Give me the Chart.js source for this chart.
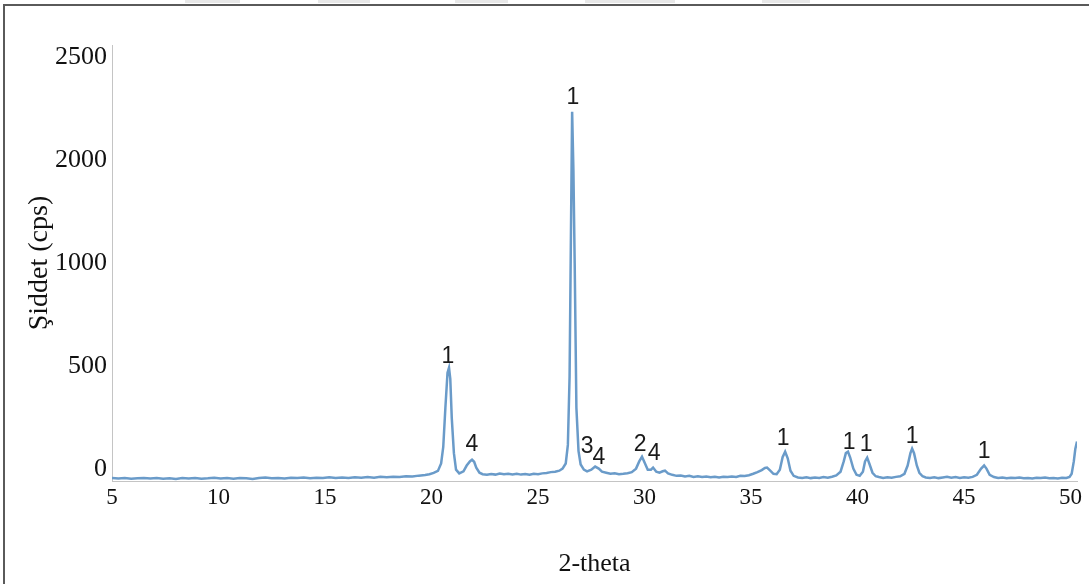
<!DOCTYPE html>
<html>
<head>
<meta charset="utf-8">
<script src="https://cdn.jsdelivr.net/npm/chart.js@4.4.1/dist/chart.umd.min.js"></script>
<style>
  html, body { margin: 0; padding: 0; background: #fff; }
  #wrap { position: relative; width: 1089px; height: 584px; overflow: hidden; }
  #frame { position: absolute; left: 3px; top: 4px; right: -10px; bottom: -10px;
           border-left: 2px solid #5a5a5a; border-top: 2px solid #5a5a5a; pointer-events: none; }
  .smudge { position: absolute; top: 0; height: 3px; background: #e8e8e8; }
</style>
</head>
<body>
<div id="wrap">
  <canvas id="myChart"></canvas>
  <div id="frame"></div>
  <div class="smudge" style="left:185px;width:55px"></div>
  <div class="smudge" style="left:318px;width:52px"></div>
  <div class="smudge" style="left:455px;width:53px"></div>
  <div class="smudge" style="left:585px;width:90px"></div>
  <div class="smudge" style="left:762px;width:48px"></div>
</div>
<script>
const twoTheta = [
  5.0, 5.3, 5.6, 5.9, 6.2, 6.5, 6.8, 7.1, 7.4, 7.7, 8.0, 8.3, 8.6, 8.9, 9.2, 9.5, 9.8,
  10.1, 10.4, 10.7, 11.0, 11.3, 11.6, 11.9, 12.2, 12.5, 12.8, 13.1, 13.4, 13.7, 14.0,
  14.3, 14.6, 14.9, 15.2, 15.5, 15.8, 16.1, 16.4, 16.7, 17.0, 17.3, 17.6, 17.9, 18.2,
  18.5, 18.8, 19.1, 19.4, 19.7, 19.9, 20.1, 20.3, 20.45, 20.55, 20.65, 20.75, 20.82,
  20.88, 20.95, 21.05, 21.15, 21.3, 21.5, 21.65, 21.8, 21.9, 22.0, 22.1, 22.25, 22.4,
  22.6, 22.8, 23.0, 23.2, 23.4, 23.6, 23.8, 24.0, 24.2, 24.4, 24.6, 24.8, 25.0, 25.2,
  25.4, 25.6, 25.8, 26.0, 26.15, 26.3, 26.4, 26.48, 26.54, 26.6, 26.66, 26.72, 26.8,
  26.9, 27.0, 27.15, 27.3, 27.5, 27.68, 27.85, 28.0, 28.2, 28.4, 28.6, 28.8, 29.0,
  29.2, 29.4, 29.6, 29.75, 29.88, 30.0, 30.15, 30.3, 30.4, 30.55, 30.7, 30.85, 30.96,
  31.1, 31.3, 31.5, 31.7, 31.9, 32.1, 32.3, 32.5, 32.7, 32.9, 33.1, 33.3, 33.5, 33.7,
  33.9, 34.1, 34.3, 34.5, 34.7, 34.9, 35.1, 35.3, 35.5, 35.65, 35.75, 35.9, 36.05,
  36.2, 36.35, 36.48, 36.6, 36.72, 36.85, 37.0, 37.2, 37.4, 37.6, 37.8, 38.0, 38.2,
  38.4, 38.6, 38.8, 39.0, 39.2, 39.35, 39.45, 39.55, 39.65, 39.8, 39.95, 40.1, 40.25,
  40.35, 40.45, 40.55, 40.7, 40.85, 41.0, 41.2, 41.4, 41.6, 41.8, 42.0, 42.2, 42.35,
  42.48, 42.56, 42.65, 42.78, 42.9, 43.05, 43.2, 43.4, 43.6, 43.8, 44.0, 44.2, 44.4,
  44.6, 44.8, 45.0, 45.2, 45.4, 45.6, 45.8, 45.94, 46.05, 46.2, 46.4, 46.6, 46.8,
  47.0, 47.2, 47.4, 47.6, 47.8, 48.0, 48.2, 48.4, 48.6, 48.8, 49.0, 49.2, 49.4, 49.6,
  49.8, 49.95, 50.05, 50.15, 50.22, 50.3
];
const intensity = [
  -40, -43, -41, -44, -42, -40, -43, -41, -44, -42, -45, -41, -43, -40, -44, -42, -39,
  -43, -41, -44, -40, -42, -45, -41, -38, -42, -40, -43, -39, -41, -38,
  -42, -39, -41, -37, -40, -38, -41, -37, -39, -36, -39, -35, -37, -34,
  -36, -32, -33, -29, -26, -22, -16, -6, 30, 110, 300, 470, 494,
  440, 250, 80, 0, -18, -8, 20, 40, 48, 38, 10, -15, -22,
  -25, -21, -24, -19, -22, -20, -23, -20, -24, -21, -25, -20, -22, -18,
  -16, -12, -10, -5, 5, 30, 120, 450, 1200, 2234, 1900, 1000, 300,
  90, 25, 0, -8, 0, 15, 5, -10, -15, -20, -18, -22, -20,
  -17, -12, 5, 40, 63, 35, 0, 0, 10, -10, -15, -8, -5,
  -18, -25, -30, -28, -33, -30, -35, -32, -36, -33, -37, -34, -38, -35,
  -36, -33, -35, -30, -31, -27, -20, -12, -2, 8, 10, -5, -20,
  -22, 0, 60, 87, 55, -5, -30, -38, -40, -37, -41, -38, -40,
  -36, -39, -34, -28, -10, 40, 80, 87, 60, 5, -25, -30, -10,
  40, 58, 30, -15, -32, -36, -40, -37, -39, -35, -32, -20, 20,
  80, 102, 80, 20, -15, -32, -38, -40, -37, -41, -38, -35, -39,
  -36, -40, -37, -39, -35, -25, 5, 20, 5, -25, -36, -40, -38,
  -42, -39, -41, -38, -42, -40, -43, -39, -41, -38, -42, -40, -43, -39,
  -40, -35, -20, 40, 100, 136
];

// tick labels on the y axis, drawn evenly spaced as in the source figure
const yTickValues = [0, 500, 1000, 2000, 2500];
const xTickValues = [5, 10, 15, 20, 25, 30, 35, 40, 45, 50];

// phase numbers written above the peaks
const peakText  = ['1', '4', '1', '3', '4', '2', '4', '1', '1', '1', '1', '1'];
const peakTheta = [20.77, 21.9, 26.64, 27.3, 27.86, 29.79, 30.45, 36.5, 39.6, 40.4, 42.56, 45.94];
const peakLevel = [547, 121, 2301, 111, 58, 121, 77, 150, 131, 121, 160, 87];

// y scale whose labelled ticks sit at equal distances
class EvenTickScale extends Chart.LinearScale {
  static id = 'evenTicks';
  static defaults = Chart.LinearScale.defaults;
  toUnit(v) {
    const t = yTickValues, n = t.length - 1;
    if (v <= t[0]) return (v - t[0]) / (t[1] - t[0]);
    if (v >= t[n]) return n + (v - t[n]) / (t[n] - t[n - 1]);
    let i = 0;
    while (v > t[i + 1]) i++;
    return i + (v - t[i]) / (t[i + 1] - t[i]);
  }
  fromUnit(u) {
    const t = yTickValues, n = t.length - 1;
    if (u <= 0) return t[0] + u * (t[1] - t[0]);
    if (u >= n) return t[n] + (u - n) * (t[n] - t[n - 1]);
    const i = Math.floor(u);
    return t[i] + (u - i) * (t[i + 1] - t[i]);
  }
  buildTicks() {
    return yTickValues.filter(v => v >= this.min && v <= this.max).map(v => ({ value: v }));
  }
  getPixelForValue(v) {
    const u0 = this.toUnit(this.min), u1 = this.toUnit(this.max);
    return this.getPixelForDecimal((this.toUnit(v) - u0) / (u1 - u0));
  }
  getValueForPixel(p) {
    const u0 = this.toUnit(this.min), u1 = this.toUnit(this.max);
    return this.fromUnit(u0 + this.getDecimalForPixel(p) * (u1 - u0));
  }
}
Chart.register(EvenTickScale);

const peakLabels = {
  id: 'peakLabels',
  afterDatasetsDraw(chart) {
    const { ctx, scales: { x, y } } = chart;
    ctx.save();
    ctx.font = '23px "Liberation Sans", Arial, sans-serif';
    ctx.fillStyle = '#1a1a1a';
    ctx.textAlign = 'center';
    ctx.textBaseline = 'middle';
    peakText.forEach((t, i) => {
      ctx.fillText(t, x.getPixelForValue(peakTheta[i]), y.getPixelForValue(peakLevel[i]));
    });
    ctx.restore();
  }
};

const serif = '"Liberation Serif", "Times New Roman", serif';
const ctx = document.getElementById('myChart');

const data = {
  datasets: [{
    data: twoTheta.map((t, i) => ({ x: t, y: intensity[i] })),
    borderColor: '#6a9bc9',
    borderWidth: 2.5,
    pointRadius: 0,
    tension: 0,
    fill: false
  }]
};

const config = {
  type: 'line',
  data: data,
  plugins: [peakLabels],
  options: {
    responsive: true,
    maintainAspectRatio: false,
    animation: false,
    layout: { padding: { left: 0, right: 12, top: 45, bottom: 0 } },
    plugins: { legend: { display: false }, tooltip: { enabled: false } },
    scales: {
      x: {
        type: 'linear',
        min: 5,
        max: 50.3,
        afterBuildTicks: s => { s.ticks = xTickValues.map(v => ({ value: v })); },
        afterFit: s => { s.height = 103; },
        grid: { display: true, drawOnChartArea: false, drawTicks: false },
        border: { display: true, color: '#c4c4c4', width: 1 },
        ticks: { padding: 3, maxRotation: 0, color: '#111', font: { family: serif, size: 23 },
                 callback: v => String(v) },
        title: { display: true, text: '2-theta', color: '#111',
                 font: { family: serif, size: 26 }, padding: { top: 0, bottom: 4 } }
      },
      y: {
        type: 'evenTicks',
        min: -55,
        max: 2558,
        afterFit: s => { s.width = 112; },
        grid: { display: true, drawOnChartArea: false, drawTicks: false },
        border: { display: true, color: '#c4c4c4', width: 1 },
        ticks: { padding: 5, color: '#111', font: { family: serif, size: 26 },
                 callback: v => String(v) },
        title: { display: true, text: 'Şiddet (cps)', color: '#111',
                 font: { family: serif, size: 28 }, padding: { top: 23, bottom: 0 } }
      }
    }
  }
};
new Chart(ctx, config);
</script>
</body>
</html>
